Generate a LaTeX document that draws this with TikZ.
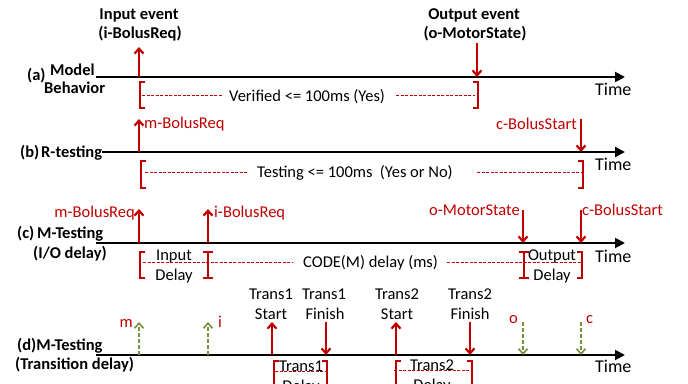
\documentclass[tikz,border=0pt]{standalone}
\usepackage{fontspec}
\setmainfont{Carlito}
\usetikzlibrary{arrows.meta,positioning}
\definecolor{evred}{RGB}{192,0,0}
\definecolor{evgreen}{RGB}{118,146,60}
\tikzset{
	axis/.style={line width=2pt, -{Triangle[length=10pt,width=10pt]}},
	evt/.style={draw=evred, line width=2.2pt, -{Straight Barb[length=5pt,width=9pt]}},
	sim/.style={draw=evgreen, line width=1.7pt, dash pattern=on 4pt off 2pt, -{Straight Barb[length=5pt,width=9pt]}},
	brk/.style={draw=evred, line width=2.8pt},
	span/.style={draw=evred, line width=1pt, dash pattern=on 3pt off 1.5pt},
	lbl/.style={inner sep=0pt, anchor=base},
	rowlbl/.style={lbl, font=\fontsize{16.5}{19}\selectfont\bfseries},
	redlbl/.style={lbl, text=evred},
	timelbl/.style={lbl, anchor=base west, font=\fontsize{18}{20}\selectfont}
}

\begin{document}
\begin{tikzpicture}[x=1pt, y=-1pt, font=\fontsize{16.5}{19}\selectfont]
	\useasboundingbox (0,0) rectangle (688,383);
	\clip (0,0) rectangle (688,383);

	% (a) model behavior
	\coordinate	(a-s)	at (96,77);
	\coordinate	(a-e)	at (625,77);
	\coordinate	(a-in)	at (139,77);
	\coordinate	(a-in-t)	at (139,47);
	\coordinate	(a-out)	at (477,77);
	\coordinate	(a-out-t)	at (477,43);
	\node[rowlbl, anchor=base west]	(a-tag)	at (27,80)	{(a)};
	\node[rowlbl, anchor=base west]	(a-name)	at (50,75)	{Model};
	\node[rowlbl, anchor=base west]	(a-name2)	at (44,93)	{Behavior};
	\node[rowlbl]	(a-in-l)	at (139,19)	{Input event};
	\node[rowlbl]	(a-in-l2)	at (140,38)	{(i-BolusReq)};
	\node[rowlbl]	(a-out-l)	at (474,19)	{Output event};
	\node[rowlbl]	(a-out-l2)	at (475,38)	{(o-MotorState)};
	\node[timelbl]	(a-time)	at (595,95)	{Time};
	\node[lbl, anchor=base west]	(a-span)	at (229,101)	{Verified <= 100ms (Yes)};

	\draw[axis]	(a-s) -- (a-e);
	\draw[evt]	(a-in) -- (a-in-t);
	\draw[evt]	(a-out-t) -- (a-out);
	\draw[brk]	(145,82) -- (140,82) -- (140,108) -- (145,108);
	\draw[brk]	(473,82) -- (478,82) -- (478,108) -- (473,108);
	\draw[span]	(142,95) -- (222,95);
	\draw[span]	(396,95) -- (475,95);

	% (b) R-testing
	\node[rowlbl, anchor=base west]	(b-tag)	at (20,157)	{(b)};
	\node[rowlbl, anchor=base west]	(b-name)	at (41,157)	{R-testing};
	\coordinate	(b-s)	at (102,152);
	\coordinate	(b-e)	at (625,152);
	\coordinate	(b-m)	at (139,152);
	\coordinate	(b-m-t)	at (139,119);
	\coordinate	(b-c)	at (581,152);
	\coordinate	(b-c-t)	at (581,119);
	\node[redlbl, anchor=base west]	(b-m-l)	at (144,128)	{m-BolusReq};
	\node[redlbl, anchor=base east]	(b-c-l)	at (577,129)	{c-BolusStart};
	\node[timelbl]	(b-time)	at (595,170)	{Time};
	\node[lbl, anchor=base west]	(b-span)	at (257,177)	{Testing <= 100ms\ \ (Yes or No)};

	\draw[axis]	(b-s) -- (b-e);
	\draw[evt]	(b-m) -- (b-m-t);
	\draw[evt]	(b-c-t) -- (b-c);
	\draw[brk]	(146,161) -- (141,161) -- (141,188) -- (146,188);
	\draw[brk]	(578,161) -- (583,161) -- (583,188) -- (578,188);
	\draw[span]	(145,172) -- (248,172);
	\draw[span]	(477,172) -- (581,172);

	% (c) M-testing, I/O delay
	\node[rowlbl, anchor=base west]	(c-tag)	at (17,238)	{(c)};
	\node[rowlbl, anchor=base west]	(c-name)	at (37,238)	{M-Testing};
	\node[rowlbl, anchor=base west]	(c-name2)	at (33,258)	{(I/O delay)};
	\coordinate	(c-s)	at (96,243);
	\coordinate	(c-e)	at (625,243);
	\coordinate	(c-m)	at (139,243);
	\coordinate	(c-m-t)	at (139,209);
	\coordinate	(c-i)	at (208,243);
	\coordinate	(c-i-t)	at (208,209);
	\coordinate	(c-o)	at (523,243);
	\coordinate	(c-o-t)	at (523,210);
	\coordinate	(c-c)	at (581,243);
	\coordinate	(c-c-t)	at (581,210);
	\node[redlbl, anchor=base east]	(c-m-l)	at (135,217)	{m-BolusReq};
	\node[redlbl, anchor=base west]	(c-i-l)	at (214,217)	{i-BolusReq};
	\node[redlbl, anchor=base east]	(c-o-l)	at (520,215)	{o-MotorState};
	\node[redlbl, anchor=base west]	(c-c-l)	at (582,215)	{c-BolusStart};
	\node[timelbl]	(c-time)	at (595,262)	{Time};
	\node[lbl]	(c-in-l)	at (174,260)	{Input};
	\node[lbl]	(c-in-l2)	at (174,280)	{Delay};
	\node[lbl]	(c-out-l)	at (552,260)	{Output};
	\node[lbl]	(c-out-l2)	at (552,280)	{Delay};
	\node[lbl, anchor=base west]	(c-span)	at (303,267)	{CODE(M) delay (ms)};

	\draw[axis]	(c-s) -- (c-e);
	\draw[evt]	(c-m) -- (c-m-t);
	\draw[evt]	(c-i) -- (c-i-t);
	\draw[evt]	(c-o-t) -- (c-o);
	\draw[evt]	(c-c-t) -- (c-c);
	\draw[brk]	(145,252) -- (140,252) -- (140,278) -- (145,278);
	\draw[brk]	(203,252) -- (213,252) (208,252) -- (208,278) (203,278) -- (213,278);
	\draw[brk]	(519,252) -- (529,252) (524,252) -- (524,278) (519,278) -- (529,278);
	\draw[brk]	(577,252) -- (582,252) -- (582,278) -- (577,278);
	\draw[span]	(143,262) -- (293,262);
	\draw[span]	(447,262) -- (581,262);

	% (d) M-testing, transition delay
	\node[rowlbl, anchor=base west]	(d-tag)	at (17,350)	{(d)M-Testing};
	\node[rowlbl, anchor=base west]	(d-name2)	at (15,369)	{(Transition delay)};
	\coordinate	(d-s)	at (96,355);
	\coordinate	(d-e)	at (625,355);
	\coordinate	(d-m)	at (139,355);
	\coordinate	(d-m-t)	at (139,322);
	\coordinate	(d-i)	at (208,355);
	\coordinate	(d-i-t)	at (208,322);
	\coordinate	(d-t1s)	at (272,355);
	\coordinate	(d-t1s-t)	at (272,322);
	\coordinate	(d-t1f)	at (326,355);
	\coordinate	(d-t1f-t)	at (326,322);
	\coordinate	(d-t2s)	at (396,355);
	\coordinate	(d-t2s-t)	at (396,322);
	\coordinate	(d-t2f)	at (470,355);
	\coordinate	(d-t2f-t)	at (470,322);
	\coordinate	(d-o)	at (523,355);
	\coordinate	(d-o-t)	at (523,322);
	\coordinate	(d-c)	at (581,355);
	\coordinate	(d-c-t)	at (581,322);
	\node[redlbl, anchor=base east]	(d-m-l)	at (133,327)	{m};
	\node[redlbl, anchor=base west]	(d-i-l)	at (218,327)	{i};
	\node[redlbl, anchor=base east]	(d-o-l)	at (518,323)	{o};
	\node[redlbl, anchor=base west]	(d-c-l)	at (586,323)	{c};
	\node[lbl]	(d-t1s-l)	at (271,299)	{Trans1};
	\node[lbl]	(d-t1s-l2)	at (271,319)	{Start};
	\node[lbl]	(d-t1f-l)	at (324,299)	{Trans1};
	\node[lbl]	(d-t1f-l2)	at (325,319)	{Finish};
	\node[lbl]	(d-t2s-l)	at (397,299)	{Trans2};
	\node[lbl]	(d-t2s-l2)	at (397,319)	{Start};
	\node[lbl]	(d-t2f-l)	at (470,299)	{Trans2};
	\node[lbl]	(d-t2f-l2)	at (470,319)	{Finish};
	\node[timelbl]	(d-time)	at (595,372)	{Time};
	\node[lbl]	(d-t1-l)	at (301,371)	{Trans1};
	\node[lbl]	(d-t1-l2)	at (301,391)	{Delay};
	\node[lbl]	(d-t2-l)	at (432,370)	{Trans2};
	\node[lbl]	(d-t2-l2)	at (432,390)	{Delay};

	\draw[axis]	(d-s) -- (d-e);
	\draw[sim]	(d-m) -- (d-m-t);
	\draw[sim]	(d-i) -- (d-i-t);
	\draw[evt]	(d-t1s) -- (d-t1s-t);
	\draw[evt]	(d-t1f-t) -- (d-t1f);
	\draw[evt]	(d-t2s) -- (d-t2s-t);
	\draw[evt]	(d-t2f-t) -- (d-t2f);
	\draw[sim]	(d-o-t) -- (d-o);
	\draw[sim]	(d-c-t) -- (d-c);
	\draw[brk]	(279,361) -- (274,361) -- (274,398);
	\draw[brk]	(322,361) -- (327,361) -- (327,398);
	\draw[brk]	(401,361) -- (396,361) -- (396,398);
	\draw[brk]	(467,361) -- (472,361) -- (472,398);
	\draw[span]	(275,371) -- (325,371);
	\draw[span]	(394,370) -- (469,370);

\end{tikzpicture}
\end{document}
